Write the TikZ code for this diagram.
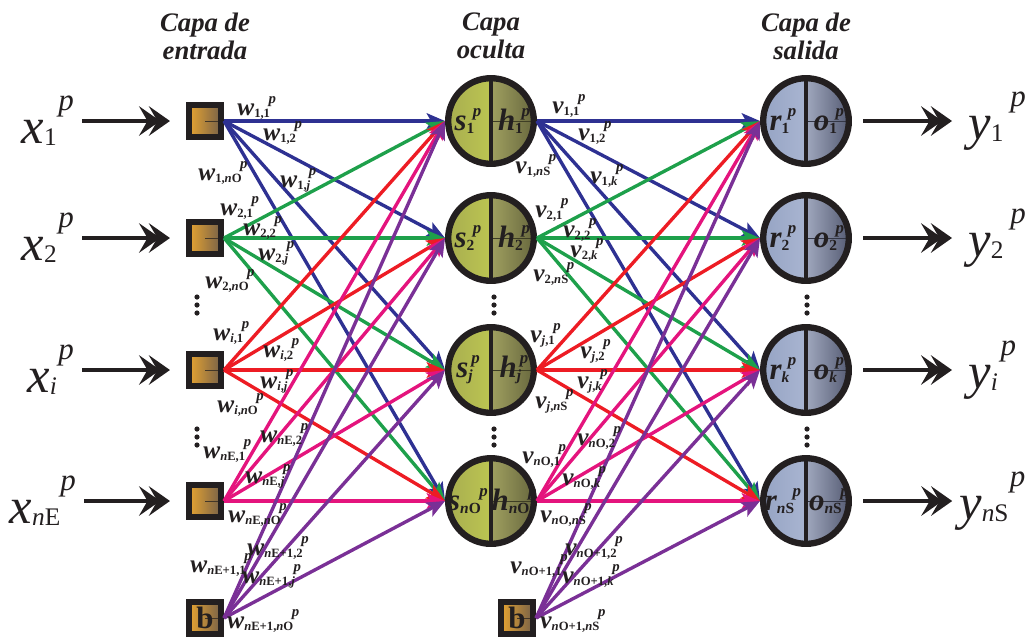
\documentclass[tikz,border=0pt]{standalone}
\usepackage{fontspec}
\setmainfont{Liberation Serif}
\usetikzlibrary{arrows.meta,positioning}
\definecolor{inkdark}{RGB}{35,31,32}
\definecolor{wblue}{RGB}{46,49,146}
\definecolor{wgreen}{RGB}{30,160,75}
\definecolor{wred}{RGB}{237,28,36}
\definecolor{wmag}{RGB}{228,20,125}
\definecolor{wpurp}{RGB}{122,48,150}
\definecolor{boxlight}{RGB}{230,163,50}
\definecolor{boxdark}{RGB}{120,98,72}
\definecolor{hidlo}{RGB}{168,174,80}
\definecolor{hidhi}{RGB}{208,220,82}
\definecolor{hidmid}{RGB}{160,160,96}
\definecolor{hiddeep}{RGB}{104,104,62}
\definecolor{outlo}{RGB}{150,164,196}
\definecolor{outhi}{RGB}{188,198,222}
\definecolor{outmid}{RGB}{160,168,190}
\definecolor{outdeep}{RGB}{86,92,116}

% weight label: bold letter, subscript, p on top
\newcommand{\wt}[2]{\textbf{\textit{#1}}\raisebox{-2pt}{\fontsize{9}{9}\selectfont\bfseries #2}\kern-1pt\raisebox{8.5pt}{\fontsize{10.5}{10.5}\selectfont\bfseries\itshape p}}
% one half of a neuron
\newcommand{\halfcell}[2]{\makebox[1.15cm]{\bfseries\itshape #1\raisebox{-2pt}{\fontsize{11}{11}\selectfont\upshape #2}\kern-1pt\raisebox{10pt}{\fontsize{12}{12}\selectfont p}}}
\newcommand{\neuron}[4]{\llap{\halfcell{#1}{#2}}\rlap{\halfcell{#3}{#4}}}
% input and output signals, #3 = gap before the p
\newcommand{\sig}[3]{\textit{#1}\raisebox{-2pt}{\fontsize{18}{18}\selectfont #2}\kern#3\raisebox{23pt}{\fontsize{22}{22}\selectfont\itshape p}}

\begin{document}
\begin{tikzpicture}[x=0.025cm, y=-0.025cm,
    layerhead/.style={font=\fontsize{19}{20}\selectfont\bfseries\itshape, text=inkdark, align=center},
    signal/.style={font=\fontsize{36}{36}\selectfont, text=inkdark, inner sep=0pt},
    unitbox/.style={draw=inkdark, line width=4.3pt, minimum size=0.8cm, inner sep=0pt,
      left color=boxlight, right color=boxdark, text=inkdark,
      font=\fontsize{22}{22}\selectfont\bfseries,
      path picture={\draw[boxdark!55!black, line width=0.6pt] (path picture bounding box.center) -- (path picture bounding box.east);}},
    ball/.style n args={4}{circle, draw=inkdark, line width=4.5pt, minimum size=2.14cm, inner sep=0pt,
      font=\fontsize{22}{22}\selectfont, text=inkdark,
      path picture={
        \fill[left color=#1, right color=#2] (path picture bounding box.north west) rectangle (path picture bounding box.south);
        \fill[left color=#3, right color=#4] (path picture bounding box.north) rectangle (path picture bounding box.south east);
        \draw[#4!60!black, line width=0.7pt] (path picture bounding box.center) -- (path picture bounding box.east);
        \draw[inkdark, line width=3.5pt] (path picture bounding box.north) -- (path picture bounding box.south);
      }},
    hidball/.style={ball={hidlo}{hidhi}{hidmid}{hiddeep}},
    outball/.style={ball={outlo}{outhi}{outmid}{outdeep}},
    wire/.style={line width=2.4pt, -{Stealth[length=13pt,width=11pt,inset=3pt]}},
    feed/.style={draw=inkdark, line width=3.5pt,
      -{Stealth[length=15pt,width=21pt,inset=6pt,sep=-8pt]Stealth[length=15pt,width=21pt,inset=6pt]}},
    wlabel/.style={font=\fontsize{18}{18}\selectfont, text=inkdark, inner sep=0pt, anchor=base west}]

  \useasboundingbox (0,0) rectangle (1029,641);

  % layer titles
  \node[layerhead] (hin) at (205,36) {Capa de\\entrada};
  \node[layerhead] (hhid) at (491,36) {Capa\\oculta};
  \node[layerhead] (hout) at (806,36) {Capa de\\salida};

  % input layer
  \node[unitbox] (in1) at (205,121) {};
  \node[unitbox] (in2) at (205,238) {};
  \node[unitbox] (ini) at (205,370) {};
  \node[unitbox] (inn) at (205,501) {};
  \node[unitbox] (inb) at (205,618) {b};

  % hidden layer
  \node[hidball] (h1) at (491,121) {\neuron{s}{1}{h}{1}};
  \node[hidball] (h2) at (491,238) {\neuron{s}{2}{h}{2}};
  \node[hidball] (hj) at (491,370) {\neuron{s}{\textit{j}}{h}{\textit{j}}};
  \node[hidball] (hn) at (491,501) {\neuron{s}{\textit{n}O}{h}{\textit{n}O}};
  \node[unitbox] (hb) at (517,618) {b};

  % output layer
  \node[outball] (o1) at (806,121) {\neuron{r}{1}{o}{1}};
  \node[outball] (o2) at (806,238) {\neuron{r}{2}{o}{2}};
  \node[outball] (ok) at (806,370) {\neuron{r}{\textit{k}}{o}{\textit{k}}};
  \node[outball] (on) at (806,501) {\neuron{r}{\textit{n}S}{o}{\textit{n}S}};

  % signals in and out
  \node[signal, anchor=east] (x1) at (74,121) {\sig{x}{1}{1pt}};
  \node[signal, anchor=east] (x2) at (74,238) {\sig{x}{2}{1pt}};
  \node[signal, anchor=east] (xi) at (74,370) {\sig{x}{\textit{i}}{1pt}};
  \node[signal, anchor=east] (xn) at (76,501) {\sig{x}{\textit{n}E}{0pt}};
  \node[signal, anchor=west] (y1) at (968,121) {\sig{y}{1}{5pt}};
  \node[signal, anchor=west] (y2) at (968,238) {\sig{y}{2}{5pt}};
  \node[signal, anchor=west] (yi) at (968,370) {\sig{y}{\textit{i}}{2pt}};
  \node[signal, anchor=west] (yn) at (959,501) {\sig{y}{\textit{n}S}{1pt}};

  \foreach \a/\b in {x1/in1, x2/in2, xi/ini, xn/inn}
    \draw[feed, shorten <=0.2cm, shorten >=0.4cm] (\a.east) -- (\b.west);
  \foreach \a/\b/\gap in {o1/y1/0.4cm, o2/y2/0.4cm, ok/yi/0.4cm, on/yn/0.17cm}
    \draw[feed, shorten <=0.28cm, shorten >=\gap] (\a.east) -- (\b.west);

  % vertical dots
  \foreach \px/\py in {197/305, 197/437, 494/305, 494/437, 807/305, 807/437}
    \foreach \dd in {-8,0,8}
      \fill[inkdark] (\px,{\py+\dd}) circle[radius=0.065cm];

  % weights
  \foreach \src/\col in {in1/wblue, in2/wgreen, ini/wred, inn/wmag, inb/wpurp}
    \foreach \dst in {h1,h2,hj,hn}
      \draw[wire, \col] (\src.east) -- (\dst.west);
  \foreach \src/\col in {h1/wblue, h2/wgreen, hj/wred, hn/wmag, hb/wpurp}
    \foreach \dst in {o1,o2,ok,on}
      \draw[wire, \col] (\src.east) -- (\dst.west);

  \foreach \ws/\px/\py [count=\idx] in {
      {1,1}/237/115, {1,2}/263/140, {1,\textit{n}O}/198/180, {1,\textit{j}}/280/187,
      {2,1}/220/215, {2,2}/243/235, {2,\textit{j}}/258/260, {2,\textit{n}O}/205/288,
      {\textit{i},1}/213/340, {\textit{i},2}/263/357, {\textit{i},\textit{j}}/260/388, {\textit{i},\textit{n}O}/217/412,
      {\textit{n}E,2}/260/442, {\textit{n}E,1}/203/458, {\textit{n}E,\textit{j}}/245/483, {\textit{n}E,\textit{n}O}/228/522,
      {\textit{n}E+1,2}/247/555, {\textit{n}E+1,1}/190/572, {\textit{n}E+1,\textit{j}}/242/583, {\textit{n}E+1,\textit{n}O}/227/628}
    \node[wlabel] (w\idx) at (\px,\py) {\wt{w}{\ws}};

  \foreach \ws/\px/\py [count=\idx] in {
      {1,1}/552/113, {1,2}/578/140, {1,\textit{n}S}/515/173, {1,\textit{k}}/590/183,
      {2,1}/535/217, {2,2}/563/237, {2,\textit{k}}/570/257, {2,\textit{n}S}/533/281,
      {\textit{j},1}/530/342, {\textit{j},2}/580/358, {\textit{j},\textit{k}}/577/388, {\textit{j},\textit{n}S}/535/408,
      {\textit{n}O,2}/577/445, {\textit{n}O,1}/522/463, {\textit{n}O,\textit{k}}/562/485, {\textit{n}O,\textit{n}S}/540/522,
      {\textit{n}O+1,2}/565/555, {\textit{n}O+1,1}/510/573, {\textit{n}O+1,\textit{k}}/562/583, {\textit{n}O+1,\textit{n}S}/540/628}
    \node[wlabel] (v\idx) at (\px,\py) {\wt{v}{\ws}};
\end{tikzpicture}
\end{document}
